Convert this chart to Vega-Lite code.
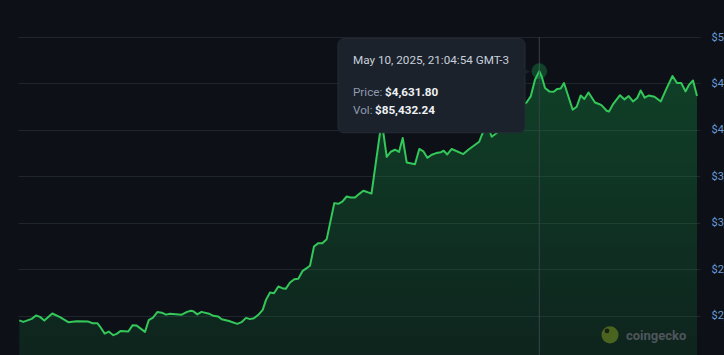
{
  "$schema": "https://vega.github.io/schema/vega-lite/v6.json",
  "width": 682,
  "height": 325,
  "autosize": {"type": "none"},
  "padding": {"left": 18, "top": 37, "right": 24, "bottom": 0},
  "background": "#0d1117",
  "config": {
    "view": {"stroke": null},
    "font": "Roboto",
    "axisY": {
      "domain": false,
      "ticks": false,
      "grid": true,
      "gridColor": "#1f252d",
      "gridWidth": 1,
      "labelColor": "#6a9bd8",
      "labelFont": "Roboto",
      "labelFontSize": 11,
      "labelPadding": 11,
      "labelBaseline": "middle"
    }
  },
  "datasets": {
    "series": [
      {"t":1.3,"price":1948},{"t":5.3,"price":1932},{"t":13.7,"price":1964},{"t":18,"price":2000},{"t":22,"price":1986},{"t":26.3,"price":1946},{"t":34.3,"price":2022},{"t":42,"price":1983},{"t":50.3,"price":1929},{"t":58.7,"price":1940},{"t":70.3,"price":1935},{"t":74.7,"price":1918},{"t":79.3,"price":1918},{"t":82,"price":1882},{"t":86.7,"price":1806},{"t":90.7,"price":1828},{"t":95.3,"price":1789},{"t":98.7,"price":1803},{"t":102.7,"price":1835},{"t":110.3,"price":1828},{"t":114.7,"price":1897},{"t":118.7,"price":1892},{"t":127,"price":1824},{"t":130.7,"price":1950},{"t":135,"price":1977},{"t":139.3,"price":2038},{"t":143.7,"price":2031},{"t":148,"price":2010},{"t":152,"price":2020},{"t":163.7,"price":2010},{"t":169,"price":2040},{"t":173,"price":2051},{"t":175.3,"price":2047},{"t":179.3,"price":2013},{"t":183.5,"price":2040},{"t":191,"price":2020},{"t":195.3,"price":1997},{"t":200,"price":1991},{"t":203.7,"price":1961},{"t":211,"price":1941},{"t":219.3,"price":1911},{"t":223.5,"price":1929},{"t":228,"price":1975},{"t":232,"price":1962},{"t":236,"price":1972},{"t":240.3,"price":2008},{"t":244.7,"price":2061},{"t":248,"price":2169},{"t":252,"price":2248},{"t":256,"price":2241},{"t":260.3,"price":2313},{"t":264.3,"price":2295},{"t":267.7,"price":2288},{"t":272,"price":2356},{"t":276.3,"price":2392},{"t":280.3,"price":2396},{"t":284.7,"price":2482},{"t":288.7,"price":2511},{"t":292,"price":2536},{"t":296,"price":2744},{"t":300.3,"price":2780},{"t":304.3,"price":2780},{"t":308.7,"price":2823},{"t":316.3,"price":3211},{"t":320.3,"price":3204},{"t":324.3,"price":3228},{"t":328.7,"price":3282},{"t":332.7,"price":3272},{"t":337,"price":3272},{"t":341.3,"price":3311},{"t":345.3,"price":3344},{"t":349.3,"price":3330},{"t":353.5,"price":3314},{"t":363.7,"price":4098},{"t":368.7,"price":3710},{"t":372.7,"price":3764},{"t":377,"price":3786},{"t":381,"price":3762},{"t":384.7,"price":3912},{"t":388.7,"price":3649},{"t":397,"price":3629},{"t":401.3,"price":3794},{"t":405.3,"price":3769},{"t":409.3,"price":3699},{"t":413.7,"price":3732},{"t":418.3,"price":3750},{"t":423,"price":3759},{"t":425.7,"price":3775},{"t":429.3,"price":3735},{"t":433.7,"price":3794},{"t":445.3,"price":3739},{"t":450.3,"price":3786},{"t":461.2,"price":3872},{"t":463.7,"price":3942},{"t":469,"price":4066},{"t":473.7,"price":3926},{"t":478.7,"price":3966},{"t":485,"price":4130},{"t":492,"price":4087},{"t":498,"price":4217},{"t":503,"price":4260},{"t":508.7,"price":4297},{"t":512.7,"price":4360},{"t":517,"price":4540},{"t":521.3,"price":4631.8},{"t":523.7,"price":4575},{"t":527,"price":4450},{"t":531.3,"price":4414},{"t":535.7,"price":4411},{"t":539.3,"price":4441},{"t":542.7,"price":4445},{"t":546,"price":4504},{"t":554.7,"price":4217},{"t":558.7,"price":4249},{"t":562.7,"price":4371},{"t":566.3,"price":4333},{"t":570.5,"price":4403},{"t":577,"price":4294},{"t":581.5,"price":4276},{"t":583.7,"price":4263},{"t":588.7,"price":4206},{"t":591,"price":4198},{"t":595.3,"price":4281},{"t":602,"price":4373},{"t":606.5,"price":4328},{"t":610.7,"price":4364},{"t":615,"price":4306},{"t":619.2,"price":4343},{"t":622.7,"price":4424},{"t":626.7,"price":4346},{"t":630.7,"price":4370},{"t":636.5,"price":4357},{"t":642.8,"price":4306},{"t":648.7,"price":4450},{"t":654.5,"price":4580},{"t":659,"price":4504},{"t":663.2,"price":4504},{"t":667.5,"price":4414},{"t":670.8,"price":4481},{"t":675,"price":4532},{"t":679,"price":4364}
    ],
    "hover": [{"t":521.3,"price":4631.8}],
    "box": [{"t0":320,"t1":507,"p0":4982,"p1":3969}],
    "arrow": [{"t":508.5,"price":4626}],
    "header": [{"t":335,"price":4755,"label":"May 10, 2025, 21:04:54 GMT-3"}],
    "keys": [{"t":335,"price":4410,"label":"Price:"},{"t":335,"price":4217,"label":"Vol:"}],
    "vals": [{"t":367,"price":4410,"label":"$4,631.80"},{"t":357,"price":4217,"label":"$85,432.24"}],
    "logo": [{"t":592,"price":1792}],
    "eye": [{"t":589,"price":1835}],
    "brand": [{"t":608,"price":1781,"label":"coingecko"}]
  },
  "layer": [
    {
      "data": {"name": "series"},
      "mark": {
        "type": "area",
        "color": {
          "gradient": "linear",
          "x1": 0, "y1": 0, "x2": 0, "y2": 1,
          "stops": [
            {"offset": 0, "color": "rgba(22,163,74,0.32)"},
            {"offset": 1, "color": "rgba(22,163,74,0.03)"}
          ]
        }
      },
      "encoding": {
        "x": {"field": "t", "type": "quantitative", "scale": {"domain": [0, 682], "nice": false, "zero": false}, "axis": null},
        "y": {"field": "price", "type": "quantitative", "scale": {"domain": [1500, 5000], "nice": false, "zero": false},
              "axis": {"title": null, "orient": "right", "values": [1500, 2000, 2500, 3000, 3500, 4000, 4500, 5000], "format": "$,.0f"}}
      }
    },
    {
      "data": {"name": "series"},
      "mark": {"type": "line", "color": "#34c759", "strokeWidth": 2, "strokeJoin": "round"},
      "encoding": {
        "x": {"field": "t", "type": "quantitative"},
        "y": {"field": "price", "type": "quantitative"}
      }
    },
    {
      "data": {"name": "hover"},
      "mark": {"type": "rule", "color": "#39414a", "strokeWidth": 1},
      "encoding": {
        "x": {"field": "t", "type": "quantitative"}
      }
    },
    {
      "data": {"name": "hover"},
      "mark": {"type": "circle", "color": "#22c55e", "opacity": 0.28, "size": 245},
      "encoding": {
        "x": {"field": "t", "type": "quantitative"},
        "y": {"field": "price", "type": "quantitative"}
      }
    },
    {
      "data": {"name": "box"},
      "mark": {"type": "rect", "fill": "#1c222b", "stroke": "#252c36", "strokeWidth": 1, "cornerRadius": 6},
      "encoding": {
        "x": {"field": "t0", "type": "quantitative"},
        "x2": {"field": "t1"},
        "y": {"field": "p0", "type": "quantitative"},
        "y2": {"field": "p1"}
      }
    },
    {
      "data": {"name": "arrow"},
      "mark": {"type": "point", "shape": "triangle-right", "filled": true, "color": "#1c222b", "opacity": 1, "size": 55},
      "encoding": {
        "x": {"field": "t", "type": "quantitative"},
        "y": {"field": "price", "type": "quantitative"}
      }
    },
    {
      "data": {"name": "header"},
      "mark": {"type": "text", "align": "left", "baseline": "middle", "font": "Roboto", "fontSize": 11.7, "color": "#c7d0dc"},
      "encoding": {
        "x": {"field": "t", "type": "quantitative"},
        "y": {"field": "price", "type": "quantitative"},
        "text": {"field": "label"}
      }
    },
    {
      "data": {"name": "keys"},
      "mark": {"type": "text", "align": "left", "baseline": "middle", "font": "Roboto", "fontSize": 11.7, "color": "#8d9ab0"},
      "encoding": {
        "x": {"field": "t", "type": "quantitative"},
        "y": {"field": "price", "type": "quantitative"},
        "text": {"field": "label"}
      }
    },
    {
      "data": {"name": "vals"},
      "mark": {"type": "text", "align": "left", "baseline": "middle", "font": "Roboto", "fontSize": 11.7, "fontWeight": "bold", "color": "#eef2f6"},
      "encoding": {
        "x": {"field": "t", "type": "quantitative"},
        "y": {"field": "price", "type": "quantitative"},
        "text": {"field": "label"}
      }
    },
    {
      "data": {"name": "logo"},
      "mark": {"type": "circle", "color": "#4a6420", "opacity": 1, "size": 290},
      "encoding": {
        "x": {"field": "t", "type": "quantitative"},
        "y": {"field": "price", "type": "quantitative"}
      }
    },
    {
      "data": {"name": "eye"},
      "mark": {"type": "circle", "color": "#1b2014", "opacity": 1, "size": 22},
      "encoding": {
        "x": {"field": "t", "type": "quantitative"},
        "y": {"field": "price", "type": "quantitative"}
      }
    },
    {
      "data": {"name": "brand"},
      "mark": {"type": "text", "align": "left", "baseline": "middle", "font": "Roboto", "fontSize": 13, "fontWeight": "bold", "color": "#50555c"},
      "encoding": {
        "x": {"field": "t", "type": "quantitative"},
        "y": {"field": "price", "type": "quantitative"},
        "text": {"field": "label"}
      }
    }
  ]
}
